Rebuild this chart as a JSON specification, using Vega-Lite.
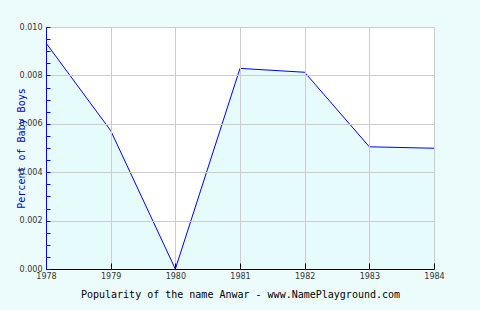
{
  "$schema": "https://vega.github.io/schema/vega-lite/v6.json",
  "width": 388,
  "height": 242,
  "autosize": {"type": "none"},
  "padding": {"left": 46, "top": 27, "right": 46, "bottom": 41},
  "background": "#ecfcfc",
  "config": {"view": {"fill": "white", "stroke": null}},
  "data": {"values": [
    {"year": 1978, "pct": 0.00934},
    {"year": 1979, "pct": 0.00572},
    {"year": 1980, "pct": 0.0},
    {"year": 1981, "pct": 0.00829},
    {"year": 1982, "pct": 0.00813},
    {"year": 1983, "pct": 0.00505},
    {"year": 1984, "pct": 0.00499}
  ]},
  "encoding": {
    "x": {
      "field": "year", "type": "quantitative",
      "scale": {"domain": [1978, 1984], "nice": false, "zero": false},
      "axis": {
        "values": [1978, 1979, 1980, 1981, 1982, 1983, 1984],
        "format": "d",
        "zindex": 1,
        "labelFlush": false,
        "domainColor": "#000000",
        "tickColor": "#000000",
        "tickSize": -6,
        "labelPadding": 9,
        "labelFont": "DejaVu Sans",
        "labelFontSize": 8,
        "labelColor": "#333333",
        "gridColor": "#cccccc",
        "title": "Popularity of the name Anwar - www.NamePlayground.com",
        "titleFont": "DejaVu Sans Mono",
        "titleFontSize": 10,
        "titleFontWeight": "normal",
        "titleColor": "#000000",
        "titleBaseline": "top",
        "titleY": 20
      }
    },
    "y": {
      "field": "pct", "type": "quantitative",
      "scale": {"domain": [0, 0.01], "nice": false},
      "axis": {
        "values": [0, 0.0005, 0.001, 0.0015, 0.002, 0.0025, 0.003, 0.0035, 0.004, 0.0045, 0.005, 0.0055, 0.006, 0.0065, 0.007, 0.0075, 0.008, 0.0085, 0.009, 0.0095, 0.01],
        "labelExpr": "round(datum.value * 10000) % 20 == 0 ? format(datum.value, '.3f') : ''",
        "gridOpacity": {"condition": {"test": "round(datum.value * 10000) % 20 == 0", "value": 1}, "value": 0},
        "zindex": 1,
        "labelFlush": false,
        "domainColor": "#0000ff",
        "tickColor": "#0000ff",
        "tickSize": -4,
        "labelPadding": 8,
        "labelFont": "DejaVu Sans",
        "labelFontSize": 8,
        "labelColor": "#333333",
        "gridColor": "#cccccc",
        "title": "Percent of Baby Boys",
        "titleFont": "DejaVu Sans Mono",
        "titleFontSize": 10,
        "titleFontWeight": "normal",
        "titleColor": "#0000cc",
        "titleAngle": 270,
        "titleBaseline": "middle",
        "titleX": -25,
        "titleY": 121
      }
    }
  },
  "layer": [
    {"mark": {"type": "area", "color": "#e6fcfc"}},
    {"mark": {"type": "line", "color": "#0000ff", "strokeWidth": 1}}
  ]
}
